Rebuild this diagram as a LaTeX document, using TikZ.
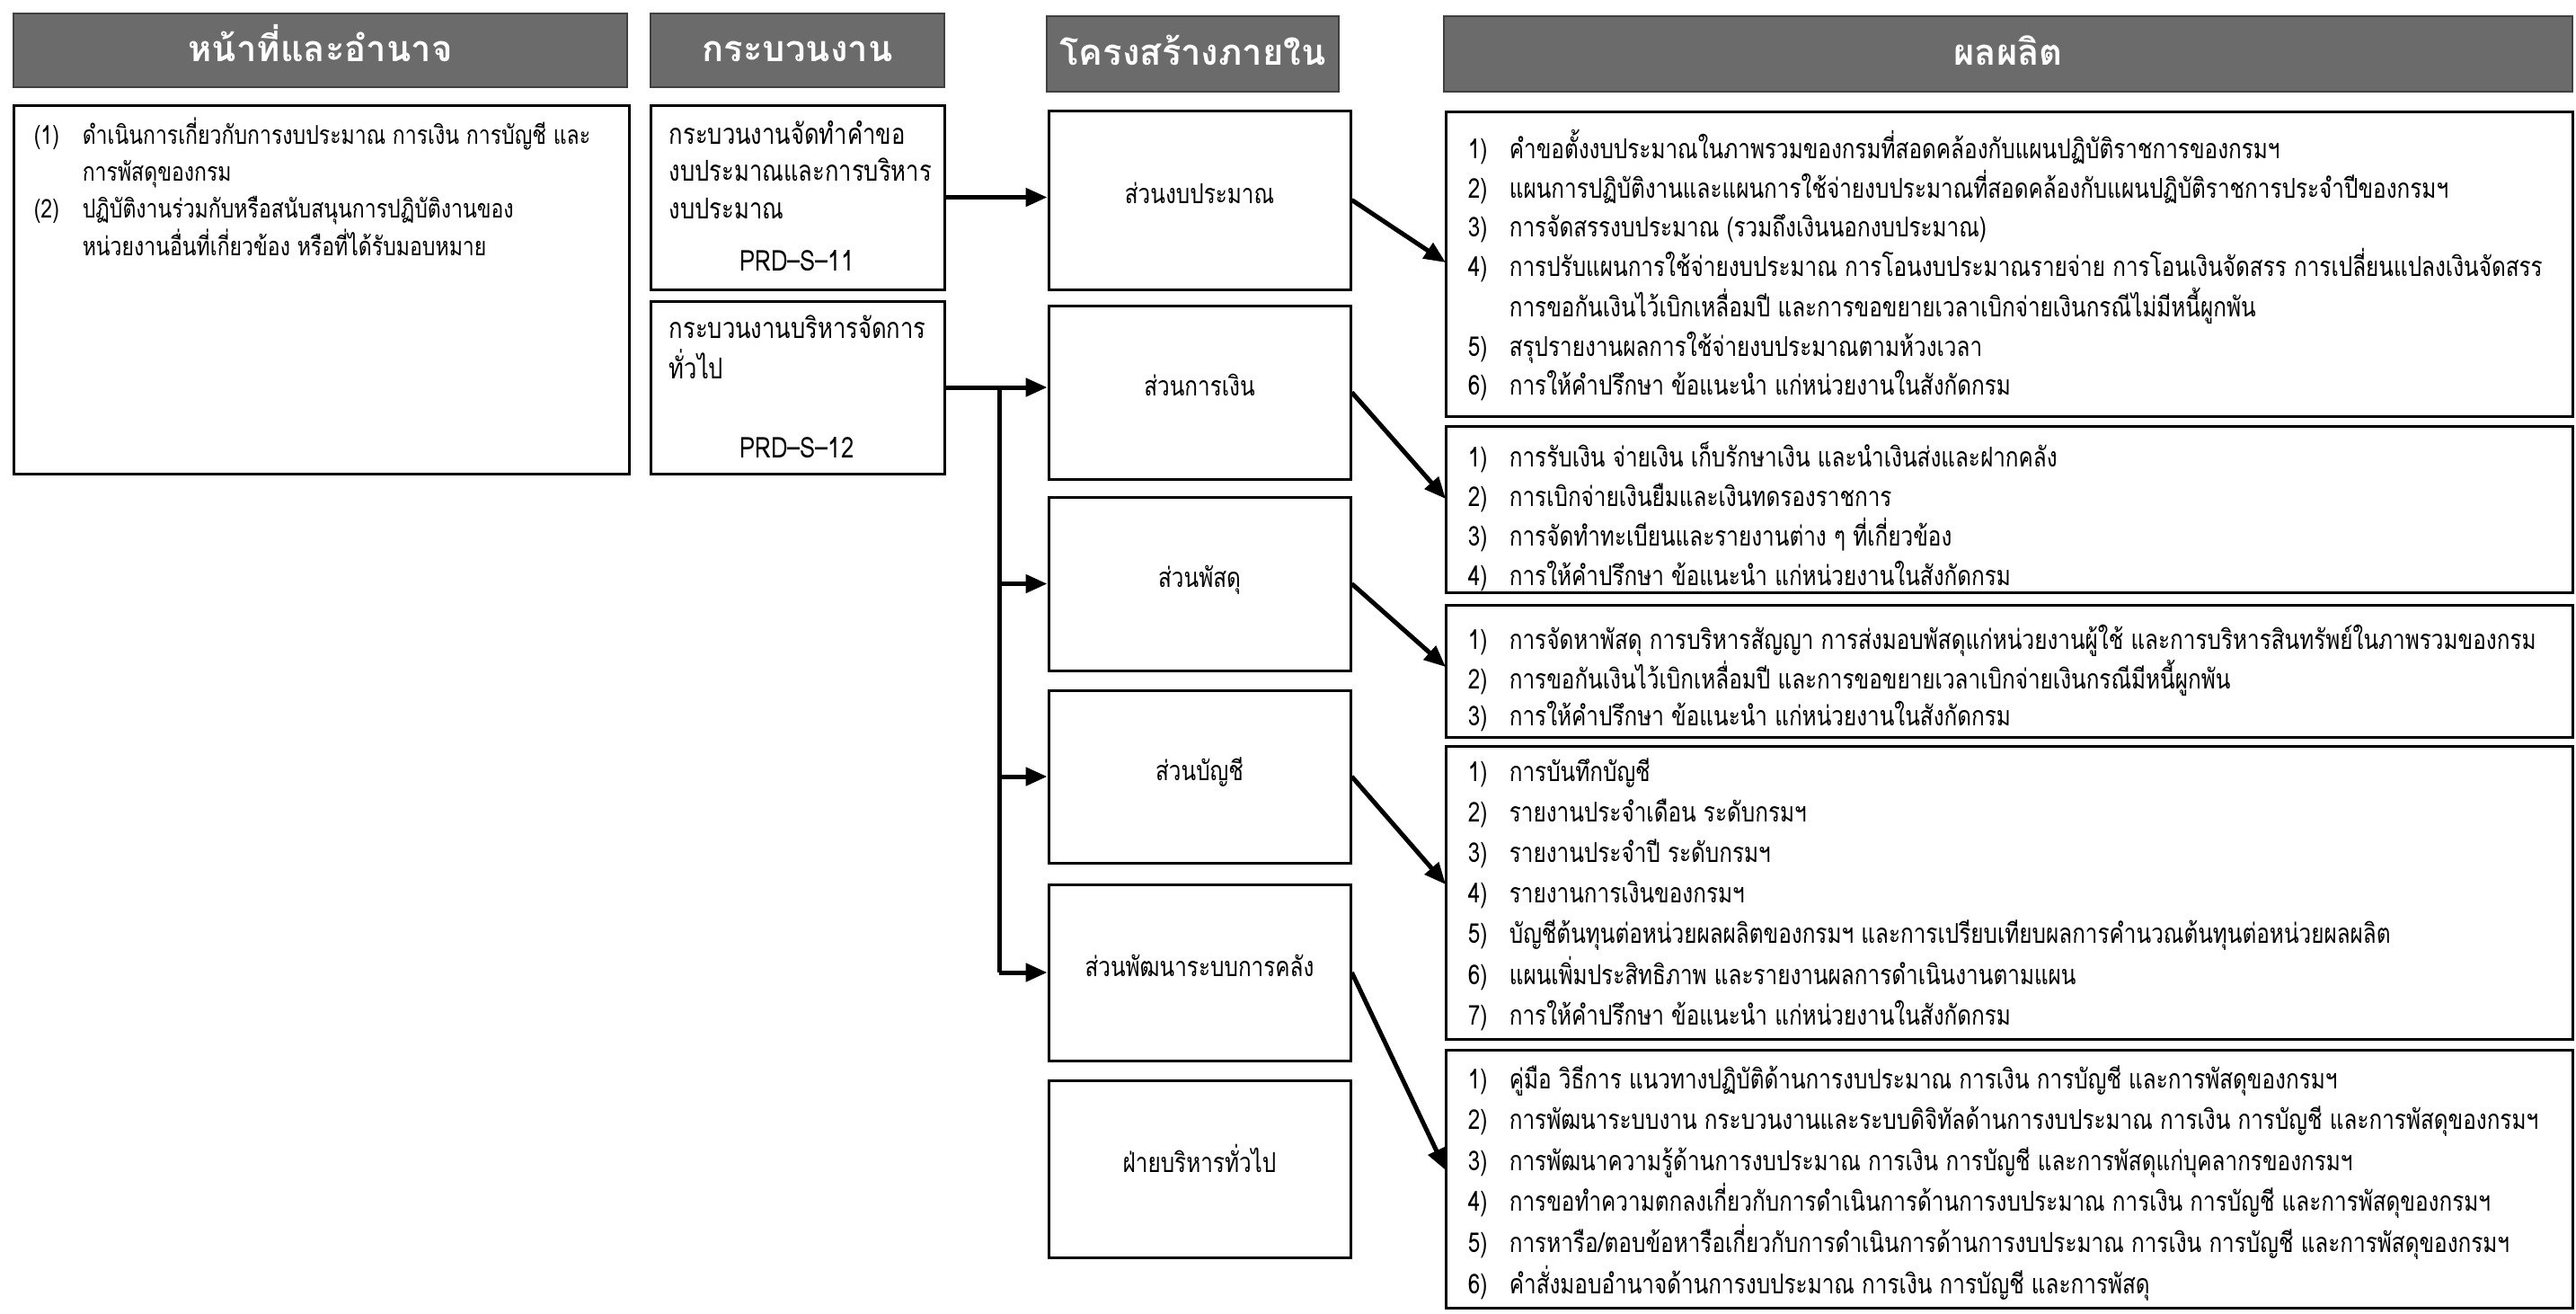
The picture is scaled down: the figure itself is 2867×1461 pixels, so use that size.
\documentclass[tikz,border=0pt]{standalone}
\usepackage{fontspec}
\setmainfont[Script=Thai]{Loma}
\newfontfamily\thn[Script=Thai,FakeStretch=0.8]{Loma}
\usetikzlibrary{fit,arrows.meta,calc}
\begin{document}
\begin{tikzpicture}[x=0.25pt,y=-0.25pt,
 box/.style={draw, line width=0.75pt, inner sep=0pt},
 hdr/.style={fill=black!58, draw=black!75, line width=0.6pt, inner sep=0pt},
 hdrtxt/.style={inner sep=0pt, anchor=base, text=white, font=\fontsize{10}{12}\selectfont\bfseries},
 unittxt/.style={inner sep=0pt, anchor=base, font=\thn\fontsize{7.6}{9}\selectfont},
 txt/.style={inner sep=0pt, anchor=base west},
 ctr/.style={inner sep=0pt, anchor=base, font=\thn\fontsize{8}{10}\selectfont},
 arr/.style={line width=1.25pt, -{Triangle[length=6pt,width=5pt]}},
 link/.style={line width=1.25pt},
]
\useasboundingbox (0,0) rectangle (2867,1461);

% headers
\node[hdr, fit={(15,15) (698,97)}] (h1) {};
\node[hdr, fit={(724,15) (1051,97)}] (h2) {};
\node[hdr, fit={(1165,18) (1490,102)}] (h3) {};
\node[hdr, fit={(1607,18) (2863,102)}] (h4) {};
\node[hdrtxt] (h1t) at ($(h1.center)+(0,12)$) {หน้าที่และอำนาจ};
\node[hdrtxt] (h2t) at ($(h2.center)+(0,12)$) {กระบวนงาน};
\node[hdrtxt] (h3t) at ($(h3.center)+(0,12)$) {โครงสร้างภายใน};
\node[hdrtxt] (h4t) at ($(h4.center)+(0,12)$) {ผลผลิต};

% duties
\node[box, fit={(15,117) (700,527)}] (duty) {};
\node[txt, font=\thn\fontsize{7.2}{10.3}\selectfont] (dutytxt) at (37,160) {\begin{tabular}[t]{@{}p{13.5pt}@{}l@{}}
(1) & ดำเนินการเกี่ยวกับการงบประมาณ การเงิน การบัญชี และ\\
    & การพัสดุของกรม\\
(2) & ปฏิบัติงานร่วมกับหรือสนับสนุนการปฏิบัติงานของ\\
    & หน่วยงานอื่นที่เกี่ยวข้อง หรือที่ได้รับมอบหมาย
\end{tabular}};

% processes
\node[box, fit={(724,117) (1051,322)}] (p1) {};
\node[txt, font=\thn\fontsize{8}{10.4}\selectfont] (p1txt) at (744,160) {\begin{tabular}[t]{@{}l@{}}
กระบวนงานจัดทำคำขอ\\ งบประมาณและการบริหาร\\ งบประมาณ
\end{tabular}};
\node[ctr] (p1code) at (887,301) {PRD–S–11};
\node[box, fit={(724,335) (1051,527)}] (p2) {};
\node[txt, font=\thn\fontsize{8}{10.4}\selectfont] (p2txt) at (744,376) {\begin{tabular}[t]{@{}l@{}}
กระบวนงานบริหารจัดการ\\ ทั่วไป
\end{tabular}};
\node[ctr] (p2code) at (887,509) {PRD–S–12};

% structure
\node[box, fit={(1167,123) (1503,322)}] (s1) {};
\node[box, fit={(1167,340) (1503,533)}] (s2) {};
\node[box, fit={(1167,553) (1503,746)}] (s3) {};
\node[box, fit={(1167,768) (1503,960)}] (s4) {};
\node[box, fit={(1167,984) (1503,1180)}] (s5) {};
\node[box, fit={(1167,1202) (1503,1399)}] (s6) {};
\node[unittxt] (s1t) at ($(s1.center)+(0,4)$) {ส่วนงบประมาณ};
\node[unittxt] (s2t) at ($(s2.center)+(0,4)$) {ส่วนการเงิน};
\node[unittxt] (s3t) at ($(s3.center)+(0,4)$) {ส่วนพัสดุ};
\node[unittxt] (s4t) at ($(s4.center)+(0,4)$) {ส่วนบัญชี};
\node[unittxt] (s5t) at ($(s5.center)+(0,4)$) {ส่วนพัฒนาระบบการคลัง};
\node[unittxt] (s6t) at ($(s6.center)+(0,4)$) {ฝ่ายบริหารทั่วไป};

% outputs
\node[box, fit={(1609,124) (2863,463)}] (o1) {};
\node[txt, font=\thn\fontsize{7.6}{10.8}\selectfont] (o1txt) at (1633,176) {\begin{tabular}[t]{@{}p{11.5pt}@{}l@{}}
1) & คำขอตั้งงบประมาณในภาพรวมของกรมที่สอดคล้องกับแผนปฏิบัติราชการของกรมฯ\\
2) & แผนการปฏิบัติงานและแผนการใช้จ่ายงบประมาณที่สอดคล้องกับแผนปฏิบัติราชการประจำปีของกรมฯ\\
3) & การจัดสรรงบประมาณ (รวมถึงเงินนอกงบประมาณ)\\
4) & การปรับแผนการใช้จ่ายงบประมาณ การโอนงบประมาณรายจ่าย การโอนเงินจัดสรร การเปลี่ยนแปลงเงินจัดสรร\\
   & การขอกันเงินไว้เบิกเหลื่อมปี และการขอขยายเวลาเบิกจ่ายเงินกรณีไม่มีหนี้ผูกพัน\\
5) & สรุปรายงานผลการใช้จ่ายงบประมาณตามห้วงเวลา\\
6) & การให้คำปรึกษา ข้อแนะนำ แก่หน่วยงานในสังกัดกรม
\end{tabular}};

\node[box, fit={(1609,474) (2863,659)}] (o2) {};
\node[txt, font=\thn\fontsize{7.6}{11}\selectfont] (o2txt) at (1633,519) {\begin{tabular}[t]{@{}p{11.5pt}@{}l@{}}
1) & การรับเงิน จ่ายเงิน เก็บรักษาเงิน และนำเงินส่งและฝากคลัง\\
2) & การเบิกจ่ายเงินยืมและเงินทดรองราชการ\\
3) & การจัดทำทะเบียนและรายงานต่าง ๆ ที่เกี่ยวข้อง\\
4) & การให้คำปรึกษา ข้อแนะนำ แก่หน่วยงานในสังกัดกรม
\end{tabular}};

\node[box, fit={(1609,673) (2863,820)}] (o3) {};
\node[txt, font=\thn\fontsize{7.6}{10.3}\selectfont] (o3txt) at (1633,722) {\begin{tabular}[t]{@{}p{11.5pt}@{}l@{}}
1) & การจัดหาพัสดุ การบริหารสัญญา การส่งมอบพัสดุแก่หน่วยงานผู้ใช้ และการบริหารสินทรัพย์ในภาพรวมของกรม\\
2) & การขอกันเงินไว้เบิกเหลื่อมปี และการขอขยายเวลาเบิกจ่ายเงินกรณีมีหนี้ผูกพัน\\
3) & การให้คำปรึกษา ข้อแนะนำ แก่หน่วยงานในสังกัดกรม
\end{tabular}};

\node[box, fit={(1609,830) (2863,1156)}] (o4) {};
\node[txt, font=\thn\fontsize{7.6}{11.3}\selectfont] (o4txt) at (1633,869) {\begin{tabular}[t]{@{}p{11.5pt}@{}l@{}}
1) & การบันทึกบัญชี\\
2) & รายงานประจำเดือน ระดับกรมฯ\\
3) & รายงานประจำปี ระดับกรมฯ\\
4) & รายงานการเงินของกรมฯ\\
5) & บัญชีต้นทุนต่อหน่วยผลผลิตของกรมฯ และการเปรียบเทียบผลการคำนวณต้นทุนต่อหน่วยผลผลิต\\
6) & แผนเพิ่มประสิทธิภาพ และรายงานผลการดำเนินงานตามแผน\\
7) & การให้คำปรึกษา ข้อแนะนำ แก่หน่วยงานในสังกัดกรม
\end{tabular}};

\node[box, fit={(1609,1168) (2863,1455)}] (o5) {};
\node[txt, font=\thn\fontsize{7.6}{11.4}\selectfont] (o5txt) at (1633,1211) {\begin{tabular}[t]{@{}p{11.5pt}@{}l@{}}
1) & คู่มือ วิธีการ แนวทางปฏิบัติด้านการงบประมาณ การเงิน การบัญชี และการพัสดุของกรมฯ\\
2) & การพัฒนาระบบงาน กระบวนงานและระบบดิจิทัลด้านการงบประมาณ การเงิน การบัญชี และการพัสดุของกรมฯ\\
3) & การพัฒนาความรู้ด้านการงบประมาณ การเงิน การบัญชี และการพัสดุแก่บุคลากรของกรมฯ\\
4) & การขอทำความตกลงเกี่ยวกับการดำเนินการด้านการงบประมาณ การเงิน การบัญชี และการพัสดุของกรมฯ\\
5) & การหารือ/ตอบข้อหารือเกี่ยวกับการดำเนินการด้านการงบประมาณ การเงิน การบัญชี และการพัสดุของกรมฯ\\
6) & คำสั่งมอบอำนาจด้านการงบประมาณ การเงิน การบัญชี และการพัสดุ
\end{tabular}};

% connectors
\draw[arr] (p1.east) -- (s1.west |- p1.east);
\draw[arr] (p2.east) -- (s2.west |- p2.east);
\coordinate (br) at (1112,431);
\draw[link] (br) -- (br |- s5.west);
\draw[arr] (br |- s3.west) -- (s3.west);
\draw[arr] (br |- s4.west) -- (s4.west);
\draw[arr] (br |- s5.west) -- (s5.west);

\coordinate (t1) at (1609,292);
\coordinate (t2) at (1609,555);
\coordinate (t3) at (1609,742);
\coordinate (t4) at (1609,984);
\coordinate (t5) at (1609,1302);
\draw[arr] (s1.east) -- (t1);
\draw[arr] (s2.east) -- (t2);
\draw[arr] (s3.east) -- (t3);
\draw[arr] (s4.east) -- (t4);
\draw[arr] (s5.east) -- (t5);
\end{tikzpicture}
\end{document}
